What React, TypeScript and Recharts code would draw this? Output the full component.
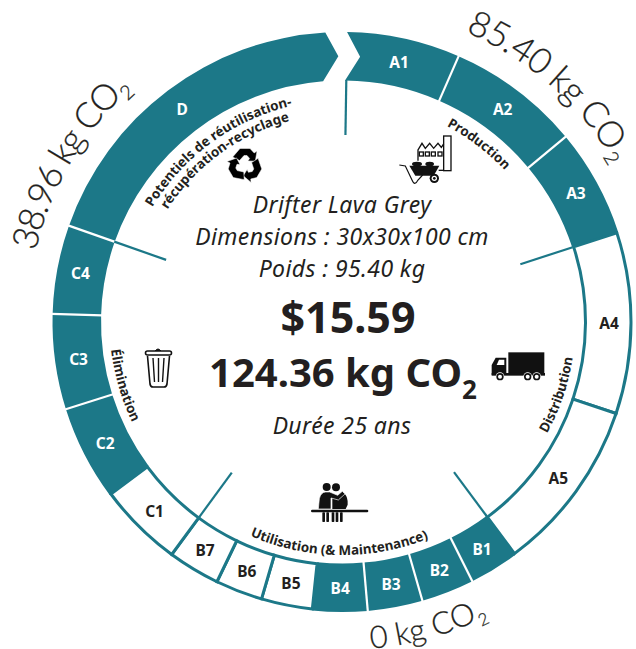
import { PieChart, Pie, Sector } from 'recharts';

const segmentNames = ['A1', 'A2', 'A3', 'A4', 'A5', 'B1', 'B2', 'B3', 'B4', 'B5', 'B6', 'B7', 'C1', 'C2', 'C3', 'C4', 'D'];
const segmentValues = [22.7, 26.7, 21.7, 36.5, 34.9, 10, 10.6, 11, 11, 10.3, 9.5, 10.5, 17.1, 19.1, 19.1, 17.8, 67.2];
const segmentFilled = [true, true, true, false, false, true, true, true, true, false, false, false, false, true, true, true, true];

const phaseNames = ['Production', 'Distribution', 'Utilisation (& Maintenance)', 'Élimination', 'Potentiels de réutilisation-'];
const phaseValues = [71.1, 71.4, 72.9, 73.1, 67.2];

const TEAL = '#1c7888';
const INK = '#231f20';
const FONT = '"Noto Sans", sans-serif';
const CX = 342.5;
const CY = 322;
const START = 89.1;
const SPAN = 355.7;

const ringData = segmentNames.map((name, i) => ({ name, value: segmentValues[i], filled: segmentFilled[i] }));
const phaseData = phaseNames.map((name, i) => ({ name, value: phaseValues[i] }));

// compass degrees: 0 = top, clockwise
const pt = (r: number, deg: number) => {
  const a = (deg * Math.PI) / 180;
  return `${(CX + r * Math.sin(a)).toFixed(2)} ${(CY - r * Math.cos(a)).toFixed(2)}`;
};
const arc = (r: number, from: number, to: number) => {
  const cw = to > from;
  const large = Math.abs(to - from) > 180 ? 1 : 0;
  return `M ${pt(r, from)} A ${r} ${r} 0 ${large} ${cw ? 1 : 0} ${pt(r, to)}`;
};

function RingSector(props: any) {
  const { cx, cy, innerRadius, outerRadius, startAngle, endAngle, payload } = props;
  const from = 90 - startAngle;
  const to = 90 - endAngle;
  const name = payload?.name ?? props.name;
  const idx = segmentNames.indexOf(name);
  if (!segmentFilled[idx]) {
    return (
      <Sector cx={cx} cy={cy} innerRadius={innerRadius + 1.5} outerRadius={outerRadius - 1.5}
        startAngle={startAngle} endAngle={endAngle} fill="#fff" stroke={TEAL} strokeWidth={3} />
    );
  }
  // white divider only between two filled segments
  const divider = idx > 0 && segmentFilled[idx - 1]
    ? <path d={`M ${pt(innerRadius - 1, from)} L ${pt(outerRadius + 1, from)}`} stroke="#fff" strokeWidth={2.2} />
    : null;
  if (name === 'D' || name === 'A1') {
    const mid = (innerRadius + outerRadius) / 2;
    const d = name === 'D'
      ? `${arc(outerRadius, from, to)} L ${pt(mid, to + 2.5)} L ${pt(innerRadius, to - 1.2)} A ${innerRadius} ${innerRadius} 0 0 0 ${pt(innerRadius, from)} Z`
      : `${arc(outerRadius, from, to)} L ${pt(innerRadius, to)} A ${innerRadius} ${innerRadius} 0 0 0 ${pt(innerRadius, from - 0.3)} L ${pt(mid, from + 2.9)} Z`;
    return <g><path d={d} fill={TEAL} />{divider}</g>;
  }
  return (
    <g>
      <Sector cx={cx} cy={cy} innerRadius={innerRadius} outerRadius={outerRadius}
        startAngle={startAngle} endAngle={endAngle} fill={TEAL} stroke="none" />
      {divider}
    </g>
  );
}

function PhaseMark(props: any) {
  const { startAngle, endAngle, index } = props;
  const from = 90 - startAngle;
  const to = 90 - endAngle;
  const i = phaseNames.indexOf(props.payload?.name ?? props.name);
  const k = i >= 0 ? i : index;
  const mid = (from + to) / 2 + 1;
  const textStyle = { fontFamily: FONT, fontSize: 13.4, fontWeight: 700, fill: INK };
  // bottom half reads the other way round the ring
  const flipped = k === 1 || k === 2 || k === 3;
  const r = flipped ? 233 : 222;
  const id = `phase-${k}`;
  return (
    <g>
      <path d={`M ${pt(187, from)} L ${pt(242, from)}`} stroke={TEAL} strokeWidth={2.2} fill="none" />
      <path id={id} d={flipped ? arc(r, mid + 70, mid - 70) : arc(r, mid - 70, mid + 70)} fill="none" />
      <text {...textStyle}>
        <textPath href={`#${id}`} startOffset="50%" textAnchor="middle">{phaseNames[k]}</textPath>
      </text>
      {k === 4 && (
        <>
          <path id="phase-4b" d={arc(208, mid - 70, mid + 70)} fill="none" />
          <text {...textStyle}>
            <textPath href="#phase-4b" startOffset="50%" textAnchor="middle">récupération-recyclage</textPath>
          </text>
        </>
      )}
    </g>
  );
}

function segmentLabel(props: any) {
  const { midAngle, index } = props;
  const deg = 90 - midAngle;
  const a = (deg * Math.PI) / 180;
  return (
    <text x={CX + 266.5 * Math.sin(a)} y={CY - 266.5 * Math.cos(a)} textAnchor="middle" dominantBaseline="central"
      fontFamily={FONT} fontSize={15.5} fontWeight={700} fill={segmentFilled[index] ? '#fff' : INK}>
      {segmentNames[index]}
    </text>
  );
}

function Co2Label({ id, r, from, to, size, spacing, subSize, subDx, subDy, children }: any) {
  return (
    <g>
      <path id={id} d={arc(r, from, to)} fill="none" />
      <text fontFamily="Lato, sans-serif" fontSize={size} fontWeight={300} letterSpacing={spacing} stroke={INK} strokeWidth={0.25} fill={INK}>
        <textPath href={`#${id}`}>
          {children}
          <tspan fontSize={subSize} dx={subDx} dy={subDy}>2</tspan>
        </textPath>
      </text>
    </g>
  );
}

function Factory() {
  return (
    <g transform="translate(392 130) scale(0.3333)" fill="#111" stroke="none">
      <rect x={155} y={18} width={22} height={104} fill="#fff" stroke="#111" strokeWidth={4} />
      <path d="M78 92 V60 L90 40 L100 55 L113 40 L125 55 L138 40 L148 52 L155 42" fill="none" stroke="#111" strokeWidth={4} />
      {[82, 100, 118, 138].map(x => <rect key={x} x={x} y={66} width={12} height={12} fill="#fff" stroke="#111" strokeWidth={4} />)}
      <path d="M140 121 H155" stroke="#111" strokeWidth={4} />
      <path d="M52 107 H142 L125 137 H70 Z" />
      <ellipse cx={75} cy={102} rx={15} ry={7} />
      <ellipse cx={113} cy={102} rx={13} ry={7} />
      <path d="M22 105 L40 108 L60 150 Q68 170 78 150 L92 135" fill="none" stroke="#111" strokeWidth={3.5} />
      <circle cx={127} cy={145} r={14} />
      <circle cx={127} cy={145} r={8} fill="#fff" />
      <circle cx={127} cy={145} r={4} />
    </g>
  );
}

function Recycle() {
  return (
    <g transform="translate(245 165)" fill="#000" stroke="#fff" strokeWidth={0.5}>
      {[0, 120, 240].map(a => (
        <path key={a} transform={`rotate(${a})`}
          d="M-12.3 -8 L-5 -16.5 H5 L9.2 -12 L12 -14 L10.3 -3.8 L2.9 -4.1 L4.6 -6.6 L2 -9.5 H-1 L-5.4 -4.5 Z" />
      ))}
    </g>
  );
}

function Bin() {
  return (
    <g transform="translate(145 347)" stroke="#111" fill="none">
      <rect x={0.5} y={4} width={26} height={4} rx={2} fill="#fff" strokeWidth={1.6} />
      <path d="M10 4 Q13 0 16 4" fill="#111" strokeWidth={1} />
      <path d="M2.5 9 L5 37 Q5.5 40 8 40 H19 Q21.5 40 22 37 L24.5 9" fill="#fff" strokeWidth={1.6} />
      <path d="M8 11 L9.5 35 M13.5 11 V35 M19 11 L17.5 35" strokeWidth={1.4} />
    </g>
  );
}

function Truck() {
  return (
    <g transform="translate(485 345) scale(0.3333)" fill="#111">
      <rect x={70} y={22} width={108} height={62} />
      <path d="M20 90 V60 L32 38 H64 V90 Z" />
      <path d="M35 60 L42 44 H58 V60 Z" fill="#fff" />
      <rect x={20} y={84} width={160} height={8} />
      {[45, 128, 155].map(x => (
        <g key={x}>
          <circle cx={x} cy={95} r={13} fill="#fff" />
          <circle cx={x} cy={95} r={11} />
          <circle cx={x} cy={95} r={6} fill="#fff" />
        </g>
      ))}
    </g>
  );
}

function Family() {
  return (
    <g transform="translate(305 478) scale(0.3333)" fill="#111">
      <circle cx={65} cy={27} r={12} />
      <circle cx={93} cy={28} r={12} />
      <path d="M82 60 L104 62 L118 46 Q130 60 128 80 L122 93 H82 Z" />
      <path d="M40 93 L43 62 Q48 42 62 42 H74 L98 52 L112 40 L120 48 L100 66 L78 60 V93 Z" stroke="#fff" strokeWidth={2} />
      <rect x={18} y={95} width={172} height={8} rx={4} />
      {[52, 64, 80, 92, 105].map(x => <rect key={x} x={x} y={103} width={8} height={29} rx={2} />)}
    </g>
  );
}

export default function App() {
  return (
    <div style={{ position: 'absolute', left: 0, top: 0, width: 636, height: 649 }}>
      <PieChart width={636} height={649} margin={{ top: 0, right: 0, bottom: 0, left: 0 }}>
        <Pie data={ringData} dataKey="value" nameKey="name" cx={CX} cy={CY} innerRadius={241.5} outerRadius={290}
          startAngle={START} endAngle={START - SPAN} isAnimationActive={false} shape={RingSector}
          label={segmentLabel} labelLine={false} />
        <Pie data={phaseData} dataKey="value" nameKey="name" cx={CX} cy={CY} innerRadius={187} outerRadius={241}
          startAngle={START} endAngle={START - SPAN} isAnimationActive={false} shape={PhaseMark} label={false} labelLine={false} />

        <Co2Label id="co2-a" r={315} from={23} to={70} size={35.5} spacing={-0.7} subSize={20} subDx={1} subDy={7}>85.40 kg CO</Co2Label>
        <Co2Label id="co2-d" r={315} from={283} to={330} size={35.5} spacing={-1.6} subSize={20} subDx={1} subDy={7}>38.96 kg CO</Co2Label>
        <Co2Label id="co2-b" r={328} from={175} to={140} size={31} spacing={0} subSize={17} subDx={1} subDy={7}>0 kg CO</Co2Label>

        <g fontFamily={FONT} fill={INK} textAnchor="middle">
          <g fontStyle="italic" fontSize={23} letterSpacing={0.4}>
            <text x={342} y={213}>Drifter Lava Grey</text>
            <text x={342} y={245}>Dimensions : 30x30x100 cm</text>
            <text x={342} y={277}>Poids : 95.40 kg</text>
            <text x={342} y={434}>Durée 25 ans</text>
          </g>
          <g fontWeight={700}>
            <text x={348} y={333} fontSize={43}>$15.59</text>
            <text x={343} y={387} fontSize={40}>124.36 kg CO<tspan fontSize={26} dy={12}>2</tspan></text>
          </g>
        </g>

        <Factory />
        <Recycle />
        <Bin />
        <Truck />
        <Family />
      </PieChart>
    </div>
  );
}
